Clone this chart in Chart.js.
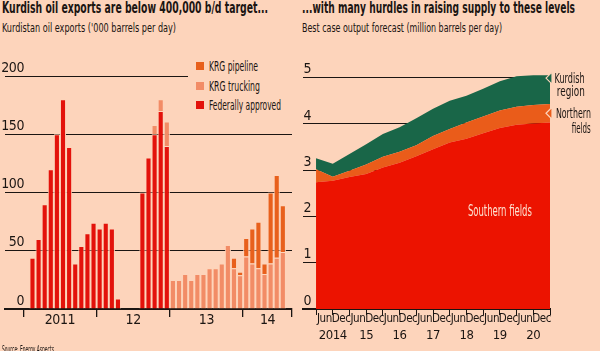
<!DOCTYPE html>
<html lang="en">
<head>
<meta charset="utf-8">
<title>Kurdish oil exports</title>
<script src="https://cdn.jsdelivr.net/npm/chart.js@4.4.1/dist/chart.umd.min.js"></script>
<style>
  html, body { margin: 0; padding: 0; }
  body {
    position: relative; width: 600px; height: 351px; overflow: hidden;
    background: #fdd4bb; color: #1b1512;
    font-family: 'Liberation Sans Narrow', 'Arial Narrow', 'DejaVu Sans Condensed', sans-serif;
  }
  .box { position: absolute; }
  .txt { position: absolute; white-space: nowrap; line-height: 1; }
  .txt span { display: inline-block; transform-origin: left center; }
  .txt.r { text-align: right; }
  .txt.r span { transform-origin: right center; }
  .txt.c { text-align: center; }
  .txt.c span { transform-origin: center center; }
  .title { font-size: 15px; font-weight: bold; }
  .sub { font-size: 13px; }
  .note { font-size: 14px; }
  #legend { position: absolute; left: 188px; top: 57px; width: 105px; height: 58px; background: #fdd4bb; }
  .row { position: absolute; left: 8px; height: 14px; font-size: 14px; line-height: 14px; white-space: nowrap; }
  .sw { position: absolute; left: 0; top: 3px; width: 8px; height: 8px; }
  .row span { position: absolute; left: 13px; top: 0; display: inline-block; transform-origin: left center; }
</style>
</head>
<body>

<div class="box" style="left:0; top:40px; width:296px; height:310px;"><canvas id="chart-exports"></canvas></div>
<div class="box" style="left:296px; top:40px; width:304px; height:310px;"><canvas id="chart-forecast"></canvas></div>

<div class="txt title" style="left:2px; top:1px;"><span data-w="266">Kurdish oil exports are below 400,000 b/d target...</span></div>
<div class="txt sub" style="left:2px; top:21px;"><span data-w="174">Kurdistan oil exports ('000 barrels per day)</span></div>
<div class="txt title" style="left:302px; top:1px;"><span data-w="273">...with many hurdles in raising supply to these levels</span></div>
<div class="txt sub" style="left:302px; top:21px;"><span data-w="200">Best case output forecast (million barrels per day)</span></div>

<div id="legend">
  <div class="row" style="top:2px;"><div class="sw" style="background:#e8601c"></div><span data-w="49">KRG pipeline</span></div>
  <div class="row" style="top:22px;"><div class="sw" style="background:#f28c66"></div><span data-w="51">KRG trucking</span></div>
  <div class="row" style="top:41px;"><div class="sw" style="background:#e3120b"></div><span data-w="72">Federally approved</span></div>
</div>

<div class="txt note r" style="right:15px; top:71px;"><span data-w="30">Kurdish</span></div>
<div class="txt note r" style="right:15px; top:84px;"><span data-w="28">region</span></div>
<div class="txt note r" style="right:9px; top:106px;"><span data-w="35">Northern</span></div>
<div class="txt note r" style="right:9px; top:121px;"><span data-w="19">fields</span></div>
<div class="txt c" style="left:440px; width:120px; top:204px; font-size:15px; color:#fde2d0;"><span data-w="64">Southern fields</span></div>

<div class="txt" style="left:2px; top:345px; font-size:10px;"><span data-w="52">Source: Energy Aspects</span></div>

<script>
'use strict';

// ─── Colours ──────────────────────────────────────────────────────────────────

const C = {
  bg:       '#fdd4bb',
  ink:      '#1b1512',
  none:     'rgba(0,0,0,0)',
  federal:  '#e3120b',
  trucking: '#f28c66',
  pipeline: '#e8601c',
  south:    '#ec1300',
  north:    '#ea5c1a',
  kurd:     '#196648',
};

const FONT = "'Liberation Sans Narrow', 'Arial Narrow', 'DejaVu Sans Condensed', sans-serif";

// ─── Left chart: Kurdistan oil exports, '000 barrels per day ───────────────────

const months = [
  '2010-10', '2010-11', '2010-12',
  '2011-01', '2011-02', '2011-03', '2011-04', '2011-05', '2011-06',
  '2011-07', '2011-08', '2011-09', '2011-10', '2011-11', '2011-12',
  '2012-01', '2012-02', '2012-03', '2012-04', '2012-05', '2012-06',
  '2012-07', '2012-08', '2012-09', '2012-10', '2012-11', '2012-12',
  '2013-01', '2013-02', '2013-03', '2013-04', '2013-05', '2013-06',
  '2013-07', '2013-08', '2013-09', '2013-10', '2013-11', '2013-12',
  '2014-01', '2014-02', '2014-03', '2014-04', '2014-05', '2014-06',
  '2014-07', '2014-08',
];

const federal = [
  null, null, null,
  null, 44, 60, 90, 120, 150, 180, 139, 39, 54, 65, 74,
  69, 74, 69, 9, null, null, null, 100, 130, 150, 170, 140,
  null, null, null, null, null, null, null, null, null, null, null, null,
  null, null, null, null, null, null, null, null,
];

const trucking = [
  null, null, null,
  null, null, null, null, null, null, null, null, null, null, null, null,
  null, null, null, null, null, null, null, null, null, 8, 10, 21,
  25, 25, 30, 25, 30, 30, 35, 35, 39, 55, 35, 29,
  45, 39, 35, 30, 39, 44, 49, null,
];

const pipeline = [
  null, null, null,
  null, null, null, null, null, null, null, null, null, null, null, null,
  null, null, null, null, null, null, null, null, null, null, null, null,
  null, null, null, null, null, null, null, null, null, null, 9, 3,
  16, 30, 40, 9, 61, 71, 40, null,
];

const exportTicks   = [0, 50, 100, 150, 200];
const exportYears   = ['2011', '12', '13', '14'];
const exportYearsAt = ['2011-06', '2012-06', '2013-06', '2014-04'];

// ─── Right chart: best case output forecast, million barrels per day ──────────

const halfYears     = ['Jun', 'Dec', 'Jun', 'Dec', 'Jun', 'Dec', 'Jun',
                       'Dec', 'Jun', 'Dec', 'Jun', 'Dec', 'Jun', 'Dec'];
const forecastYears = ['2014', '15', '16', '17', '18', '19', '20'];
const forecastTicks = [0, 1, 2, 3, 4, 5];

const southern = [2.74, 2.77, 2.85, 2.92, 3.06, 3.16, 3.30, 3.45, 3.60, 3.68, 3.80, 3.91, 3.98, 4.01, 4.03];
const northern = [0.28, 0.09, 0.14, 0.20, 0.23, 0.24, 0.24, 0.29, 0.29, 0.35, 0.36, 0.38, 0.39, 0.40, 0.40];
const kurdish  = [0.24, 0.28, 0.36, 0.44, 0.49, 0.53, 0.58, 0.59, 0.61, 0.58, 0.60, 0.63, 0.66, 0.64, 0.62];

// ─── Helpers ─────────────────────────────────────────────────────────────────

function toPoints(arr) {
  return arr.map(function(v, i) { return { x: i, y: v }; });
}

function fixTicks(values) {
  return function(scale) {
    scale.ticks = values.map(function(v) { return { value: v }; });
  };
}

function fitText() {
  document.querySelectorAll('[data-w]').forEach(function(el) {
    const w = el.getBoundingClientRect().width;
    if (w > 0) el.style.transform = 'scaleX(' + (parseFloat(el.dataset.w) / w) + ')';
  });
}

Chart.defaults.font.family = FONT;
Chart.defaults.color = C.ink;

// texto mas apretado, como la tipografia condensada del original
const tightText = {
  id: 'tightText',
  beforeDraw: function(chart) { chart.ctx.letterSpacing = '-0.4px'; },
};

const barStyle = {
  borderColor: C.bg,
  borderWidth: 1,
  borderSkipped: 'start',
  barPercentage: 1,
  categoryPercentage: 1,
  inflateAmount: 0,
};

const areaStyle = {
  borderWidth: 0,
  pointRadius: 0,
  tension: 0,
};

// ─── Left chart ──────────────────────────────────────────────────────────────

function initExports() {
  new Chart(document.getElementById('chart-exports'), {
    type: 'bar',
    data: {
      labels: months,
      datasets: [
        Object.assign({ label: 'Federally approved', data: federal,  backgroundColor: C.federal },  barStyle),
        Object.assign({ label: 'KRG trucking',       data: trucking, backgroundColor: C.trucking }, barStyle),
        Object.assign({ label: 'KRG pipeline',       data: pipeline, backgroundColor: C.pipeline }, barStyle),
      ],
    },
    plugins: [tightText],
    options: {
      responsive: true,
      maintainAspectRatio: false,
      animation: false,
      layout: { padding: { left: 5, right: 4, top: 36, bottom: 17 } },
      plugins: { legend: { display: false }, tooltip: { enabled: false } },
      scales: {
        x: {
          stacked: true,
          z: 1,
          afterFit: function(s) { s.height = 24; },
          border: { display: true, color: C.ink, width: 2 },
          grid: {
            offset: true,
            drawOnChartArea: false,
            drawTicks: true,
            tickLength: 8,
            lineWidth: 1.3,
            color: function(ctx) {
              if (ctx.index === undefined) return C.ink;
              return months[ctx.index].slice(5) === '01' ? C.ink : C.none;
            },
          },
          ticks: {
            autoSkip: false,
            maxRotation: 0,
            padding: -5,
            labelOffset: 3,
            font: { size: 14 },
            callback: function(v, i) {
              const k = exportYearsAt.indexOf(months[i]);
              return k >= 0 ? exportYears[k] : '';
            },
          },
        },
        y: {
          stacked: true,
          min: 0,
          max: 200,
          afterBuildTicks: fixTicks(exportTicks),
          afterFit: function(s) { s.width = 0; },
          border: { display: false },
          grid: {
            drawTicks: false,
            lineWidth: 1,
            color: function(ctx) { return ctx.tick && ctx.tick.value === 0 ? C.none : C.ink; },
          },
          ticks: {
            mirror: true,
            crossAlign: 'far',
            padding: -5,
            labelOffset: -8,
            font: { size: 14 },
          },
        },
      },
    },
  });
}

// ─── Right chart ─────────────────────────────────────────────────────────────

const regionMarkers = {
  id: 'regionMarkers',
  afterDatasetsDraw: function(chart) {
    const ctx = chart.ctx;
    const a = chart.chartArea;
    const y = chart.scales.y;
    [[4.99, C.kurd], [4.23, C.north]].forEach(function(m) {
      const py = y.getPixelForValue(m[0]);
      ctx.save();
      ctx.beginPath();
      ctx.moveTo(a.right - 4, py);
      ctx.lineTo(a.right + 2, py - 6);
      ctx.lineTo(a.right + 2, py + 6);
      ctx.closePath();
      ctx.fillStyle = m[1];
      ctx.fill();
      ctx.strokeStyle = C.bg;
      ctx.lineWidth = 1.2;
      ctx.stroke();
      ctx.restore();
    });
  },
};

function initForecast() {
  const xMin = -0.78;
  const xMax = southern.length - 1;

  new Chart(document.getElementById('chart-forecast'), {
    type: 'line',
    data: {
      datasets: [
        Object.assign({ label: 'Southern fields', data: toPoints(southern), fill: 'origin', backgroundColor: C.south }, areaStyle),
        Object.assign({ label: 'Northern fields', data: toPoints(northern), fill: '-1',     backgroundColor: C.north }, areaStyle),
        Object.assign({ label: 'Kurdish region',  data: toPoints(kurdish),  fill: '-1',     backgroundColor: C.kurd },  areaStyle),
      ],
    },
    plugins: [tightText, regionMarkers],
    options: {
      responsive: true,
      maintainAspectRatio: false,
      animation: false,
      layout: { padding: { left: 7, right: 50, top: 33, bottom: 5 } },
      plugins: { legend: { display: false }, tooltip: { enabled: false } },
      scales: {
        x: {
          type: 'linear',
          min: xMin,
          max: xMax,
          z: 1,
          afterBuildTicks: fixTicks(southern.map(function(v, i) { return i; })),
          afterFit: function(s) { s.height = 20; },
          border: { display: true, color: C.ink, width: 2 },
          grid: { drawOnChartArea: false, drawTicks: true, tickLength: 6, lineWidth: 1, color: C.ink },
          ticks: {
            autoSkip: false,
            maxRotation: 0,
            padding: -3,
            labelOffset: 8.4,
            font: { size: 11.5 },
            callback: function(v, i) { return halfYears[i] || ''; },
          },
        },
        x2: {
          type: 'linear',
          position: 'bottom',
          weight: 1,
          min: xMin,
          max: xMax,
          afterBuildTicks: fixTicks(forecastYears.map(function(y, j) { return 2 * j + 1; })),
          afterFit: function(s) { s.height = 16; },
          border: { display: false },
          grid: { display: false, drawTicks: false },
          ticks: {
            autoSkip: false,
            maxRotation: 0,
            padding: -1,
            font: { size: 13 },
            callback: function(v, i) { return forecastYears[i]; },
          },
        },
        y: {
          stacked: true,
          min: 0,
          max: 5.1,
          afterBuildTicks: fixTicks(forecastTicks),
          afterFit: function(s) { s.width = 0; },
          border: { display: false },
          grid: {
            drawTicks: false,
            lineWidth: 1,
            color: function(ctx) { return ctx.tick && ctx.tick.value === 0 ? C.none : C.ink; },
          },
          ticks: {
            mirror: true,
            crossAlign: 'far',
            padding: 0,
            labelOffset: -8,
            font: { size: 14 },
          },
        },
      },
    },
  });
}

// ─── Start ───────────────────────────────────────────────────────────────────

fitText();
initExports();
initForecast();
</script>
</body>
</html>
